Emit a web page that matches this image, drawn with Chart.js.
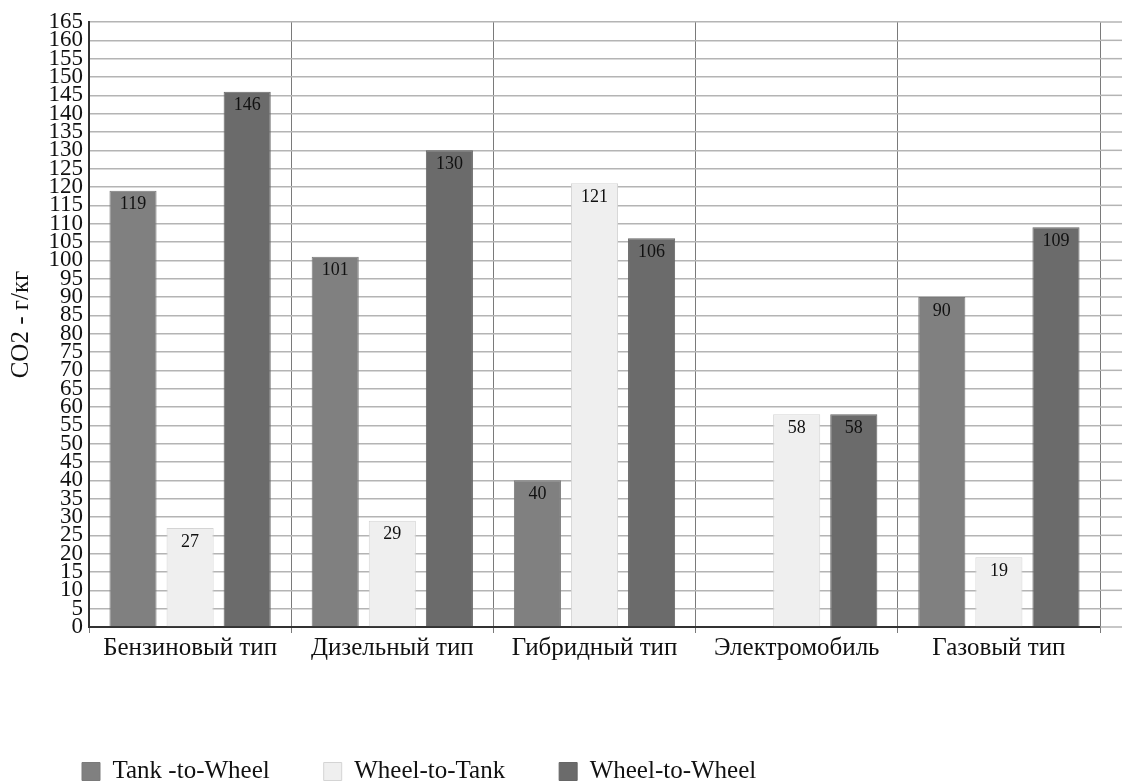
<!DOCTYPE html>
<html>
<head>
<meta charset="utf-8">
<script src="https://cdn.jsdelivr.net/npm/chart.js@4.4.1/dist/chart.umd.min.js"></script>
<style>
  html, body { margin: 0; padding: 0; background: #fff; }
  #wrap { width: 1129px; height: 782px; }
</style>
</head>
<body>
<div id="wrap"><canvas id="chart" width="1129" height="782"></canvas></div>
<script>
const categories = ['Бензиновый тип', 'Дизельный тип', 'Гибридный тип', 'Электромобиль', 'Газовый тип'];
const tankToWheel = [119, 101, 40, 0, 90];
const wheelToTank = [27, 29, 121, 58, 19];
const wheelToWheel = [146, 130, 106, 58, 109];
const yMax = 165;
const yStep = 5;

const serif = "'Liberation Serif', 'Times New Roman', serif";

// values written inside the top of each bar
const barValues = {
    id: 'barValues',
    afterDatasetsDraw(chart) {
        const ctx = chart.ctx;
        ctx.save();
        ctx.font = '18px ' + serif;
        ctx.fillStyle = '#111';
        ctx.textAlign = 'center';
        ctx.textBaseline = 'top';
        chart.data.datasets.forEach((ds, i) => {
            chart.getDatasetMeta(i).data.forEach((bar, j) => {
                const v = ds.data[j];
                if (!v) return;
                ctx.fillText(String(v), bar.x, bar.y + 5);
            });
        });
        ctx.restore();
    }
};

// horizontal grid runs a little past the last category line
const gridTail = {
    id: 'gridTail',
    beforeDatasetsDraw(chart) {
        const ctx = chart.ctx;
        const y = chart.scales.y;
        const area = chart.chartArea;
        ctx.save();
        ctx.strokeStyle = '#b4b4b4';
        ctx.lineWidth = 1.5;
        y.ticks.forEach(t => {
            const py = y.getPixelForValue(t.value);
            ctx.beginPath();
            ctx.moveTo(area.right, py);
            ctx.lineTo(area.right + 22, py);
            ctx.stroke();
        });
        ctx.restore();
    }
};

// nudge the legend row right and down, like the original
const legendShift = {
    id: 'legendShift',
    afterUpdate(chart) {
        const lg = chart.legend;
        lg.left += 28;
        lg.right += 28;
        lg.top += 14;
        lg.bottom += 14;
    }
};

new Chart(document.getElementById('chart'), {
    type: 'bar',
    data: {
        labels: categories,
        datasets: [
            {
                label: 'Tank -to-Wheel',
                data: tankToWheel,
                backgroundColor: '#808080',
                borderColor: '#7a7a7a',
                borderWidth: 1
            },
            {
                label: 'Wheel-to-Tank',
                data: wheelToTank,
                backgroundColor: '#efefef',
                borderColor: '#d4d4d4',
                borderWidth: 1
            },
            {
                label: 'Wheel-to-Wheel',
                data: wheelToWheel,
                backgroundColor: '#6b6b6b',
                borderColor: '#666',
                borderWidth: 1
            }
        ]
    },
    options: {
        responsive: false,
        animation: false,
        categoryPercentage: 0.847,
        barPercentage: 0.825,
        layout: { padding: { top: 22, right: 29, bottom: 2, left: 0 } },
        plugins: {
            legend: {
                position: 'bottom',
                align: 'start',
                labels: {
                    font: { family: serif, size: 25 },
                    color: '#111',
                    boxWidth: 18,
                    boxHeight: 18,
                    padding: 54
                }
            },
            tooltip: { enabled: false }
        },
        scales: {
            x: {
                grid: {
                    color: '#7a7a7a',
                    lineWidth: 1,
                    tickLength: 6,
                    offset: true
                },
                border: { color: '#333', width: 2 },
                ticks: {
                    font: { family: serif, size: 25 },
                    color: '#111',
                    padding: 0,
                    maxRotation: 0
                },
                afterFit(scale) { scale.height = 64; }
            },
            y: {
                min: 0,
                max: yMax,
                grid: { color: '#b4b4b4', lineWidth: 1.5, drawTicks: false },
                border: { color: '#333', width: 2 },
                ticks: {
                    stepSize: yStep,
                    autoSkip: false,
                    font: { family: serif, size: 23 },
                    color: '#111',
                    padding: 6
                },
                title: {
                    display: true,
                    text: 'CO2 - г/кг',
                    font: { family: serif, size: 25 },
                    color: '#111',
                    padding: { top: 6, bottom: 0 }
                },
                afterFit(scale) { scale.width = 89; }
            }
        }
    },
    plugins: [barValues, gridTail, legendShift]
});
</script>
</body>
</html>
